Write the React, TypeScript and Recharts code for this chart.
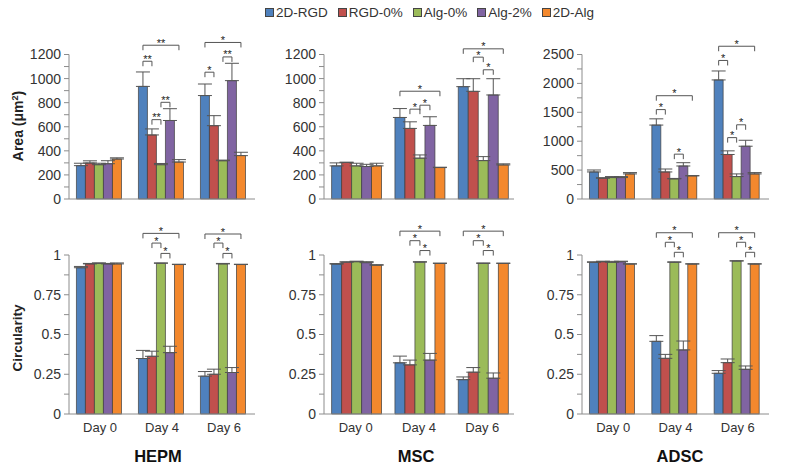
import React from "react";
import { BarChart, Bar, XAxis, YAxis, ErrorBar } from "recharts";

const SERIES = [
  { key: "rgd", name: "2D-RGD", color: "#4F81BD" },
  { key: "rgd0", name: "RGD-0%", color: "#C0504D" },
  { key: "alg0", name: "Alg-0%", color: "#9BBB59" },
  { key: "alg2", name: "Alg-2%", color: "#8064A2" },
  { key: "alg", name: "2D-Alg", color: "#F3882D" },
];

const DAYS = ["Day 0", "Day 4", "Day 6"];

// rows = days, cols = series (same order as SERIES)
const HEPM_AREA = [[277, 299, 285, 293, 332], [935, 532, 285, 652, 307], [859, 609, 318, 983, 360]];
const HEPM_AREA_ERR = [[20, 18, 12, 25, 10], [120, 50, 10, 98, 20], [96, 83, 5, 144, 28]];
const MSC_AREA = [[275, 303, 275, 270, 275], [677, 586, 339, 611, 261], [933, 894, 319, 864, 283]];
const MSC_AREA_ERR = [[25, 3, 22, 18, 22], [74, 55, 27, 72, 3], [66, 105, 33, 135, 9]];
const ADSC_AREA = [[468, 360, 371, 371, 434], [1279, 468, 348, 571, 400], [2060, 770, 388, 913, 434]];
const ADSC_AREA_ERR = [[34, 8, 17, 17, 23], [108, 51, 8, 57, 5], [155, 63, 46, 103, 23]];

const HEPM_CIRC = [[0.92, 0.944, 0.948, 0.944, 0.944], [0.349, 0.363, 0.948, 0.386, 0.94], [0.238, 0.25, 0.944, 0.261, 0.94]];
const HEPM_CIRC_ERR = [[0.008, 0.003, 0.002, 0.003, 0.006], [0.051, 0.032, 0.002, 0.04, 0.002], [0.029, 0.032, 0.003, 0.031, 0.002]];
const MSC_CIRC = [[0.943, 0.955, 0.958, 0.952, 0.936], [0.322, 0.309, 0.955, 0.339, 0.947], [0.216, 0.263, 0.947, 0.225, 0.947]];
const MSC_CIRC_ERR = [[0.003, 0.002, 0.003, 0.006, 0.003], [0.042, 0.03, 0.003, 0.042, 0.002], [0.017, 0.029, 0.003, 0.033, 0.002]];
const ADSC_CIRC = [[0.954, 0.958, 0.954, 0.958, 0.943], [0.457, 0.35, 0.954, 0.403, 0.943], [0.256, 0.323, 0.962, 0.281, 0.943]];
const ADSC_CIRC_ERR = [[0.003, 0.003, 0.006, 0.003, 0.002], [0.036, 0.025, 0.003, 0.056, 0.002], [0.017, 0.023, 0.002, 0.021, 0.002]];

// significance brackets: day index, bar from/to, height in data units
const HEPM_AREA_SIG = [
  { day: 1, from: 0, to: 4, y: 1277, label: "**" },
  { day: 1, from: 0, to: 1, y: 1144, label: "**" },
  { day: 1, from: 1, to: 2, y: 659, label: "**" },
  { day: 1, from: 2, to: 3, y: 803, label: "**" },
  { day: 2, from: 0, to: 4, y: 1300, label: "*" },
  { day: 2, from: 0, to: 1, y: 1053, label: "*" },
  { day: 2, from: 2, to: 3, y: 1180, label: "**" },
];
const MSC_AREA_SIG = [
  { day: 1, from: 0, to: 4, y: 895, label: "*" },
  { day: 1, from: 1, to: 2, y: 746, label: "*" },
  { day: 1, from: 2, to: 3, y: 779, label: "*" },
  { day: 2, from: 0, to: 4, y: 1247, label: "*" },
  { day: 2, from: 1, to: 2, y: 1178, label: "*" },
  { day: 2, from: 2, to: 3, y: 1073, label: "*" },
];
const ADSC_AREA_SIG = [
  { day: 1, from: 0, to: 4, y: 1787, label: "*" },
  { day: 1, from: 0, to: 1, y: 1547, label: "*" },
  { day: 1, from: 2, to: 3, y: 776, label: "*" },
  { day: 2, from: 0, to: 4, y: 2643, label: "*" },
  { day: 2, from: 0, to: 1, y: 2397, label: "*" },
  { day: 2, from: 1, to: 2, y: 1062, label: "*" },
  { day: 2, from: 2, to: 3, y: 1284, label: "*" },
];
const HEPM_CIRC_SIG = [
  { day: 1, from: 0, to: 4, y: 1.136, label: "*" },
  { day: 1, from: 1, to: 2, y: 1.075, label: "*" },
  { day: 1, from: 2, to: 3, y: 1.01, label: "*" },
  { day: 2, from: 0, to: 4, y: 1.132, label: "*" },
  { day: 2, from: 1, to: 2, y: 1.075, label: "*" },
  { day: 2, from: 2, to: 3, y: 1.01, label: "*" },
];
const MSC_CIRC_SIG = [
  { day: 1, from: 0, to: 4, y: 1.15, label: "*" },
  { day: 1, from: 1, to: 2, y: 1.09, label: "*" },
  { day: 1, from: 2, to: 3, y: 1.028, label: "*" },
  { day: 2, from: 0, to: 4, y: 1.15, label: "*" },
  { day: 2, from: 1, to: 2, y: 1.09, label: "*" },
  { day: 2, from: 2, to: 3, y: 1.028, label: "*" },
];
const ADSC_CIRC_SIG = [
  { day: 1, from: 0, to: 4, y: 1.14, label: "*" },
  { day: 1, from: 1, to: 2, y: 1.08, label: "*" },
  { day: 1, from: 2, to: 3, y: 1.017, label: "*" },
  { day: 2, from: 0, to: 4, y: 1.14, label: "*" },
  { day: 2, from: 2, to: 3, y: 1.08, label: "*" },
  { day: 2, from: 3, to: 4, y: 1.017, label: "*" },
];

const AREA_TICKS = [0, 100, 200, 300, 400, 500, 600, 700, 800, 900, 1000, 1100, 1200];
const ADSC_TICKS = [0, 250, 500, 750, 1000, 1250, 1500, 1750, 2000, 2250, 2500];
const CIRC_TICKS = [0, 0.125, 0.25, 0.375, 0.5, 0.625, 0.75, 0.875, 1];

const AXIS = "#8c8c8c";
const TXT = "#333";
const FONT = "'Liberation Sans', Arial, sans-serif";

function buildRows(mean: number[][], err: number[][]) {
  return DAYS.map((day, d) => {
    const r: any = { day };
    SERIES.forEach((s, k) => {
      r[s.key] = mean[d][k];
      r[s.key + "Err"] = [0, err[d][k]];
    });
    return r;
  });
}

// last series draws its bar plus the brackets for its day
const bracketShape = (sig: any[]) => (p: any) => {
  const { x, y, width, height, fill, index, payload } = p;
  const base = y + height;
  const per = height / payload.alg;
  const cx = (j: number) => x + width / 2 - (4 - j) * width;
  return (
    <g>
      <rect x={x} y={y} width={width} height={height} fill={fill} stroke="#3d3d3d" strokeWidth={0.7} />
      {sig.filter((b) => b.day === index).map((b, i) => {
        const ly = base - b.y * per;
        const x0 = cx(b.from);
        const x1 = cx(b.to);
        return (
          <g key={i}>
            <path d={`M${x0},${ly + 5}V${ly}H${x1}V${ly + 5}`} fill="none" stroke="#555" strokeWidth={1} />
            <text x={(x0 + x1) / 2} y={ly + 1.5} textAnchor="middle" fontSize={11} fill="#222" fontFamily={FONT}>
              {b.label}
            </text>
          </g>
        );
      })}
    </g>
  );
};

function Panel(props: any) {
  const { left, top, w, h, mt, xh, mean, err, sig, ticks, major, showDays } = props;
  const rows = buildRows(mean, err);
  const max = ticks[ticks.length - 1];
  return (
    <div style={{ position: "absolute", left, top }}>
      <BarChart width={w} height={h} data={rows} margin={{ top: mt, right: 0, bottom: 0, left: 0 }} barCategoryGap="12%" barGap={0}>
        <XAxis
          dataKey="day"
          height={xh}
          axisLine={{ stroke: AXIS }}
          tickLine={false}
          tick={showDays ? { fill: TXT, fontSize: 13, fontFamily: FONT } : false}
          tickMargin={3}
        />
        <YAxis
          width={50}
          domain={[0, max]}
          ticks={ticks}
          interval={0}
          tickSize={5}
          tickMargin={3}
          axisLine={{ stroke: AXIS }}
          tickLine={{ stroke: AXIS }}
          tick={{ fill: TXT, fontSize: 14, fontFamily: FONT }}
          tickFormatter={(v: number) => (Math.abs(v / major - Math.round(v / major)) < 1e-6 ? String(v) : "")}
        />
        {SERIES.map((s, k) => (
          <Bar
            key={s.key}
            dataKey={s.key}
            name={s.name}
            fill={s.color}
            stroke="#3d3d3d"
            strokeWidth={0.7}
            isAnimationActive={false}
            shape={k === 4 ? bracketShape(sig) : undefined}
          >
            <ErrorBar dataKey={s.key + "Err"} direction="y" width={7} stroke="#555" strokeWidth={1} />
          </Bar>
        ))}
      </BarChart>
    </div>
  );
}

const COLS = [
  { name: "HEPM", left: 19, w: 236, label: 158 },
  { name: "MSC", left: 274, w: 240, label: 416 },
  { name: "ADSC", left: 532, w: 237, label: 680 },
];

export default function App() {
  const top = { top: 30, h: 179, mt: 24.5, xh: 10 };
  const bot = { top: 205, h: 239, mt: 50, xh: 30 };
  return (
    <div style={{ position: "absolute", left: 0, top: 0, width: 789, height: 472, background: "#fff", fontFamily: FONT, overflow: "hidden" }}>
      <div style={{ position: "absolute", left: 265, top: 5, display: "flex", alignItems: "center", fontSize: 13.5, color: TXT, whiteSpace: "nowrap" }}>
        {SERIES.map((s) => (
          <div key={s.key} style={{ display: "flex", alignItems: "center", marginRight: 10 }}>
            <span style={{ width: 7, height: 7, background: s.color, border: "1px solid #444", marginRight: 2, display: "inline-block" }} />
            {s.name}
          </div>
        ))}
      </div>

      <Panel left={COLS[0].left} w={COLS[0].w} {...top} mean={HEPM_AREA} err={HEPM_AREA_ERR} sig={HEPM_AREA_SIG} ticks={AREA_TICKS} major={200} />
      <Panel left={COLS[1].left} w={COLS[1].w} {...top} mean={MSC_AREA} err={MSC_AREA_ERR} sig={MSC_AREA_SIG} ticks={AREA_TICKS} major={200} />
      <Panel left={COLS[2].left} w={COLS[2].w} {...top} mean={ADSC_AREA} err={ADSC_AREA_ERR} sig={ADSC_AREA_SIG} ticks={ADSC_TICKS} major={500} />

      <Panel left={COLS[0].left} w={COLS[0].w} {...bot} mean={HEPM_CIRC} err={HEPM_CIRC_ERR} sig={HEPM_CIRC_SIG} ticks={CIRC_TICKS} major={0.25} showDays />
      <Panel left={COLS[1].left} w={COLS[1].w} {...bot} mean={MSC_CIRC} err={MSC_CIRC_ERR} sig={MSC_CIRC_SIG} ticks={CIRC_TICKS} major={0.25} showDays />
      <Panel left={COLS[2].left} w={COLS[2].w} {...bot} mean={ADSC_CIRC} err={ADSC_CIRC_ERR} sig={ADSC_CIRC_SIG} ticks={CIRC_TICKS} major={0.25} showDays />

      <div style={{ position: "absolute", left: 18, top: 126, transform: "translate(-50%, -50%) rotate(-90deg)", fontWeight: "bold", fontSize: 14, color: "#222", whiteSpace: "nowrap" }}>
        Area (μm<sup style={{ fontSize: 9 }}>2</sup>)
      </div>
      <div style={{ position: "absolute", left: 17, top: 338, transform: "translate(-50%, -50%) rotate(-90deg)", fontWeight: "bold", fontSize: 13.5, color: "#222", whiteSpace: "nowrap" }}>
        Circularity
      </div>

      {COLS.map((c) => (
        <div key={c.name} style={{ position: "absolute", left: c.label, top: 456, transform: "translate(-50%, -50%)", fontWeight: "bold", fontSize: 16.5, color: "#111" }}>
          {c.name}
        </div>
      ))}
    </div>
  );
}
